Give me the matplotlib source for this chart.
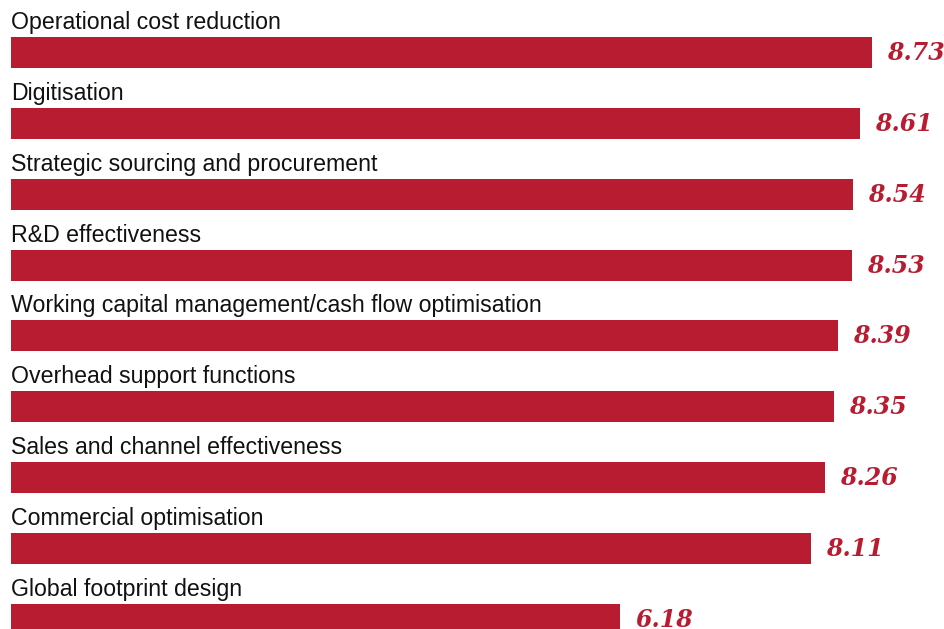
import matplotlib.pyplot as plt

# data
labels = [
    "Operational cost reduction",
    "Digitisation",
    "Strategic sourcing and procurement",
    "R&D effectiveness",
    "Working capital management/cash flow optimisation",
    "Overhead support functions",
    "Sales and channel effectiveness",
    "Commercial optimisation",
    "Global footprint design",
]
values = [8.73, 8.61, 8.54, 8.53, 8.39, 8.35, 8.26, 8.11, 6.18]

bar_color = "#b81c31"
px_per_unit = 98.6
row_px = 70.85
top_px = 52.5

fig = plt.figure(figsize=(9.45, 6.29), dpi=100)
ax = fig.add_axes([0, 0, 1, 1])

pos = list(range(len(values)))
ax.barh(pos, values, height=31 / row_px, color=bar_color, left=0)

for i, (lab, v) in enumerate(zip(labels, values)):
    ax.text(0.0, i - 23.5 / row_px, lab, ha="left", va="baseline",
            fontsize=16.7, family="Liberation Sans", color="#111111")
    ax.text(v + 15 / px_per_unit, i + 7.5 / row_px, f"{v:.2f}",
            ha="left", va="baseline", fontsize=17,
            family="DejaVu Serif", fontweight="bold", fontstyle="italic",
            color=bar_color)

ax.set_xlim(-11 / px_per_unit, (945 - 11) / px_per_unit)
ax.set_ylim((629 - top_px) / row_px, -top_px / row_px)
ax.axis("off")

fig.savefig("out.png", dpi=100)
